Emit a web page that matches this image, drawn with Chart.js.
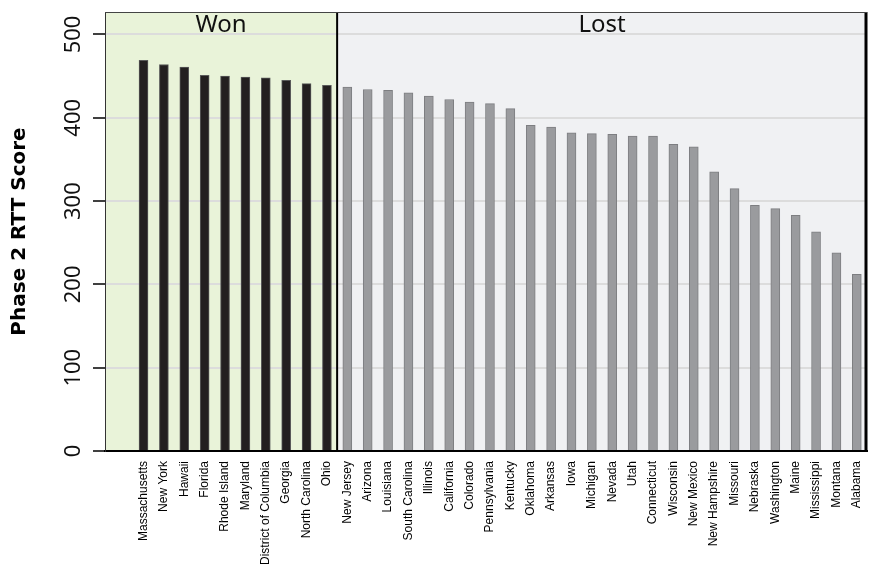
<!DOCTYPE html>
<html>
<head>
<meta charset="utf-8">
<script src="https://cdn.jsdelivr.net/npm/chart.js@4/dist/chart.umd.min.js"></script>
<style>
  html, body { margin: 0; padding: 0; background: #fff; }
  #wrap { width: 872px; height: 569px; }
</style>
</head>
<body>
<div id="wrap"><canvas id="chart"></canvas></div>
<script>
// states that won / lost, ordered by score
const wonStates = ['Massachusetts', 'New York', 'Hawaii', 'Florida', 'Rhode Island', 'Maryland',
    'District of Columbia', 'Georgia', 'North Carolina', 'Ohio'];
const wonScores = [469, 464, 461, 451, 450, 449, 448, 445, 441, 439];

const lostStates = ['New Jersey', 'Arizona', 'Louisiana', 'South Carolina', 'Illinois', 'California',
    'Colorado', 'Pennsylvania', 'Kentucky', 'Oklahoma', 'Arkansas', 'Iowa', 'Michigan', 'Nevada',
    'Utah', 'Connecticut', 'Wisconsin', 'New Mexico', 'New Hampshire', 'Missouri', 'Nebraska',
    'Washington', 'Maine', 'Mississippi', 'Montana', 'Alabama'];
const lostScores = [437, 434, 433, 430, 426, 422, 419, 417, 411, 391, 389, 382, 381, 380,
    378, 378, 368, 365, 335, 315, 295, 291, 283, 263, 238, 212];

const yTicks = [0, 100, 200, 300, 400, 500];

const allStates = wonStates.concat(lostStates);

// backgrounds, divider and region labels
const regions = {
    id: 'regions',
    beforeDraw(chart) {
        var ctx = chart.ctx, a = chart.chartArea, xs = chart.scales.x;
        var split = xs.getPixelForValue(wonStates.length - 0.5);
        ctx.save();
        ctx.fillStyle = '#e9f3d9';
        ctx.fillRect(a.left, a.top, split - a.left, a.bottom - a.top);
        ctx.fillStyle = '#f0f1f3';
        ctx.fillRect(split, a.top, a.right - split, a.bottom - a.top);
        ctx.restore();
    },
    afterDatasetsDraw(chart) {
        var ctx = chart.ctx, a = chart.chartArea, xs = chart.scales.x;
        var split = xs.getPixelForValue(wonStates.length - 0.5);
        ctx.save();
        ctx.strokeStyle = '#000';
        ctx.lineWidth = 2;
        ctx.beginPath();
        ctx.moveTo(split, a.top);
        ctx.lineTo(split, a.bottom);
        ctx.stroke();
        ctx.lineWidth = 3;
        ctx.beginPath();
        ctx.moveTo(a.right - 1, a.top);
        ctx.lineTo(a.right - 1, a.bottom);
        ctx.stroke();
        ctx.strokeStyle = '#444';
        ctx.lineWidth = 1;
        ctx.beginPath();
        ctx.moveTo(a.left, a.top + 0.5);
        ctx.lineTo(a.right, a.top + 0.5);
        ctx.stroke();
        ctx.fillStyle = '#111';
        ctx.font = '24px "Noto Sans", sans-serif';
        ctx.textAlign = 'center';
        ctx.textBaseline = 'middle';
        ctx.fillText('Won', (a.left + split) / 2, a.top + 13);
        ctx.fillText('Lost', (split + a.right) / 2, a.top + 13);
        ctx.restore();
    }
};

new Chart(document.getElementById('chart'), {
    type: 'bar',
    data: {
        datasets: [
            {
                label: 'Won',
                data: wonScores.map(function (v, i) { return {x: i, y: v}; }),
                backgroundColor: '#231f20',
                borderColor: '#5a5a5a',
                borderWidth: 1
            },
            {
                label: 'Lost',
                data: lostScores.map(function (v, i) { return {x: i + wonStates.length, y: v}; }),
                backgroundColor: '#9a9b9e',
                borderColor: '#7d7e81',
                borderWidth: 1
            }
        ]
    },
    options: {
        responsive: true,
        maintainAspectRatio: false,
        animation: false,
        grouped: false,
        barThickness: 9,
        layout: { padding: { top: 12, right: 5, bottom: 0, left: 0 } },
        plugins: {
            legend: { display: false },
            tooltip: { enabled: false }
        },
        scales: {
            x: {
                type: 'linear',
                offset: false,
                min: -1.89,
                max: allStates.length - 0.5,
                grid: { display: false },
                border: { display: true, color: '#000', width: 2 },
                ticks: {
                    stepSize: 1,
                    includeBounds: false,
                    autoSkip: false,
                    minRotation: 90,
                    maxRotation: 90,
                    padding: 2,
                    color: '#000',
                    font: { family: '"Liberation Sans", Arial, sans-serif', size: 12 },
                    callback: function (v) {
                        return (Number.isInteger(v) && v >= 0 && v < allStates.length) ? allStates[v] : '';
                    }
                },
                afterFit: function (s) {
                    s.height = 118;
                    s.paddingLeft = 0;
                    s.paddingRight = 0;
                }
            },
            y: {
                min: 0,
                max: 527,
                grid: {
                    color: '#dcdcdc',
                    lineWidth: 2,
                    tickColor: '#000',
                    tickWidth: 1.5,
                    tickLength: 12
                },
                border: { display: true, color: '#333', width: 1 },
                ticks: {
                    stepSize: 100,
                    includeBounds: false,
                    minRotation: 90,
                    maxRotation: 90,
                    crossAlign: 'center',
                    padding: 0,
                    color: '#111',
                    font: { family: '"Noto Sans", sans-serif', size: 22 },
                    callback: function (v) { return yTicks.indexOf(v) >= 0 ? String(v) : ''; }
                },
                title: {
                    display: true,
                    text: 'Phase 2 RTT Score',
                    color: '#000',
                    font: { family: '"DejaVu Sans", sans-serif', size: 20, weight: 'bold' },
                    padding: { top: 8, bottom: 0 }
                },
                afterFit: function (s) {
                    s.width = 105;
                    s.paddingTop = 0;
                    s.paddingBottom = 0;
                }
            }
        }
    },
    plugins: [regions]
});
</script>
</body>
</html>
